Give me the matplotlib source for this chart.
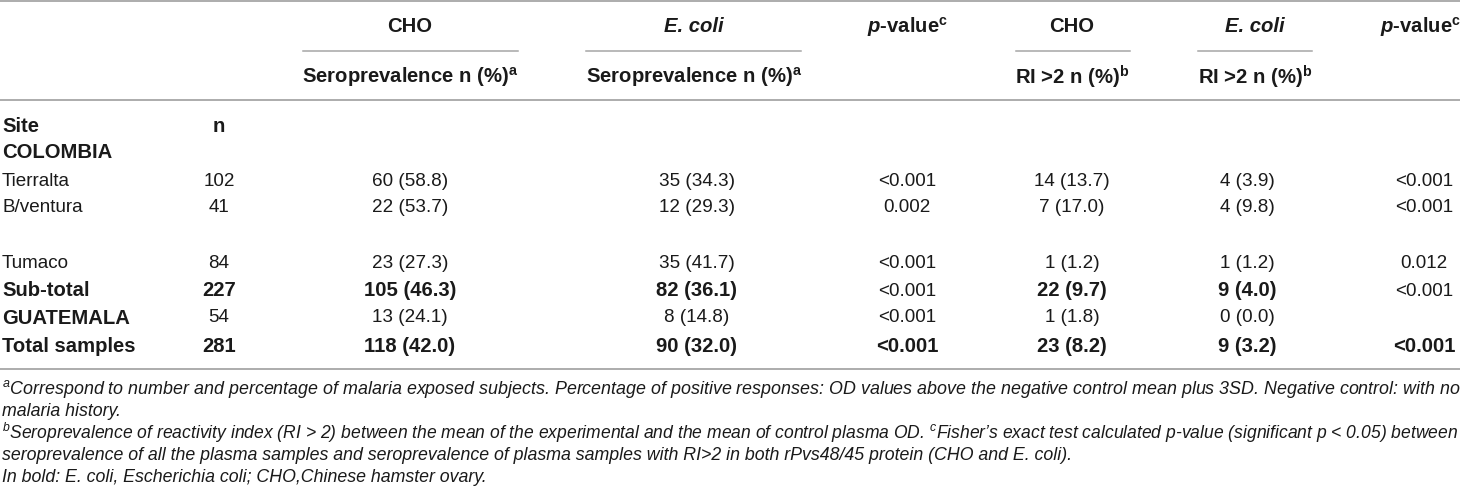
import matplotlib
matplotlib.use("Agg")
import matplotlib.pyplot as plt

plt.rcParams['font.family'] = ['Liberation Sans', 'DejaVu Sans']
plt.rcParams['mathtext.fontset'] = 'custom'
plt.rcParams['mathtext.rm'] = 'Liberation Sans'
plt.rcParams['mathtext.it'] = 'Liberation Sans:italic:bold'
plt.rcParams['mathtext.bf'] = 'Liberation Sans:bold'
plt.rcParams['mathtext.sf'] = 'Liberation Sans:italic'

# table data
sites = ['Tierralta', 'B/ventura', 'Tumaco', 'Sub-total', 'GUATEMALA', 'Total samples']
n_samples = [102, 41, 84, 227, 54, 281]
cho_n = [60, 22, 23, 105, 13, 118]
cho_pct = [58.8, 53.7, 27.3, 46.3, 24.1, 42.0]
eco_n = [35, 12, 35, 82, 8, 90]
eco_pct = [34.3, 29.3, 41.7, 36.1, 14.8, 32.0]
p_sero = ['<0.001', '0.002', '<0.001', '<0.001', '<0.001', '<0.001']
cho_ri_n = [14, 7, 1, 22, 1, 23]
cho_ri_pct = [13.7, 17.0, 1.2, 9.7, 1.8, 8.2]
eco_ri_n = [4, 4, 1, 9, 0, 9]
eco_ri_pct = [3.9, 9.8, 1.2, 4.0, 0.0, 3.2]
p_ri = ['<0.001', '<0.001', '0.012', '<0.001', '', '<0.001']

header_top = ['CHO', 'E. coli', r'$\mathit{p}$-value$^{\mathbf{c}}$', 'CHO', 'E. coli',
              r'$\mathit{p}$-value$^{\mathbf{c}}$']
header_sub = [r'Seroprevalence n (%)$^{\mathbf{a}}$', r'Seroprevalence n (%)$^{\mathbf{a}}$', '',
              r'RI >2 n (%)$^{\mathbf{b}}$', r'RI >2 n (%)$^{\mathbf{b}}$', '']

footnotes = [
    r'$^{\mathsf{a}}$Correspond to number and percentage of malaria exposed subjects. Percentage of positive responses: OD values above the negative control mean plus 3SD. Negative control: with no',
    'malaria history.',
    r'$^{\mathsf{b}}$Seroprevalence of reactivity index (RI > 2) between the mean of the experimental and the mean of control plasma OD. $^{\mathsf{c}}$Fisher’s exact test calculated p-value (significant p < 0.05) between',
    'seroprevalence of all the plasma samples and seroprevalence of plasma samples with RI>2 in both rPvs48/45 protein (CHO and E. coli).',
    'In bold: E. coli, Escherichia coli; CHO,Chinese hamster ovary.',
]
full_lines = [True, False, True, False, False]

W, H = 1460, 504
fig = plt.figure(figsize=(W / 100, H / 100), dpi=100)
ax = fig.add_axes([0, 0, 1, 1])
ax.set_xlim(0, W)
ax.set_ylim(H, 0)
ax.axis('off')

line_col = '#a6a6a6'
txt_col = '#1a1a1a'
head_x = [410, 694, 907, 1072, 1255, 1420]
data_x = [410, 697, 907, 1072, 1247, 1424]
site_x, n_x = 2, 219
row_y = [182, 208, 264, 291, 318, 346]
fs_head, fs_bold, fs_data, fs_note = 14.6, 14.6, 13.6, 12.8

# rules
ax.plot([0, W], [1, 1], color=line_col, lw=1.3)
ax.plot([0, W], [100, 100], color=line_col, lw=1.3)
ax.plot([0, W], [369, 369], color=line_col, lw=1.3)
for x0, x1 in [(303, 518), (586, 801), (1016, 1130), (1198, 1312)]:
    ax.plot([x0, x1], [51, 51], color=line_col, lw=1.1)

# header
for i in range(6):
    style = 'italic' if header_top[i] == 'E. coli' else 'normal'
    ax.text(head_x[i], 27, header_top[i], ha='center', va='center', fontsize=fs_head,
            fontweight='bold', fontstyle=style, color=txt_col)
    if header_sub[i]:
        ax.text(head_x[i], 77, header_sub[i], ha='center', va='center', fontsize=fs_head,
                fontweight='bold', color=txt_col)

ax.text(site_x, 127, 'Site', ha='left', va='center', fontsize=fs_bold, fontweight='bold', color=txt_col)
ax.text(n_x, 127, 'n', ha='center', va='center', fontsize=fs_bold, fontweight='bold', color=txt_col)
ax.text(site_x, 153, 'COLOMBIA', ha='left', va='center', fontsize=fs_bold, fontweight='bold', color=txt_col)

# body
for r, y in enumerate(row_y):
    site = sites[r]
    bold_vals = site in ('Sub-total', 'Total samples')
    bold_p = site == 'Total samples'
    bold_site = site in ('Sub-total', 'GUATEMALA', 'Total samples')

    def put(x, s, bold, ha='center'):
        ax.text(x, y, s, ha=ha, va='center', color=txt_col,
                fontsize=fs_bold if bold else fs_data,
                fontweight='bold' if bold else 'normal')

    put(site_x, site, bold_site, ha='left')
    put(n_x, str(n_samples[r]), bold_vals)
    put(data_x[0], f'{cho_n[r]} ({cho_pct[r]:.1f})', bold_vals)
    put(data_x[1], f'{eco_n[r]} ({eco_pct[r]:.1f})', bold_vals)
    put(data_x[2], p_sero[r], bold_p)
    put(data_x[3], f'{cho_ri_n[r]} ({cho_ri_pct[r]:.1f})', bold_vals)
    put(data_x[4], f'{eco_ri_n[r]} ({eco_ri_pct[r]:.1f})', bold_vals)
    if p_ri[r]:
        put(data_x[5], p_ri[r], bold_p)

# footnotes, full lines squeezed to the table width
renderer = fig.canvas.get_renderer()
note_y = [389, 411, 433, 455, 477]
for s, y, full in zip(footnotes, note_y, full_lines):
    t = ax.text(site_x, y, s, ha='left', va='center', fontsize=fs_note, fontstyle='italic', color=txt_col)
    if full:
        w = t.get_window_extent(renderer).width
        t.set_fontsize(fs_note * (W - 4) / w)

fig.savefig('out.png', dpi=100)
